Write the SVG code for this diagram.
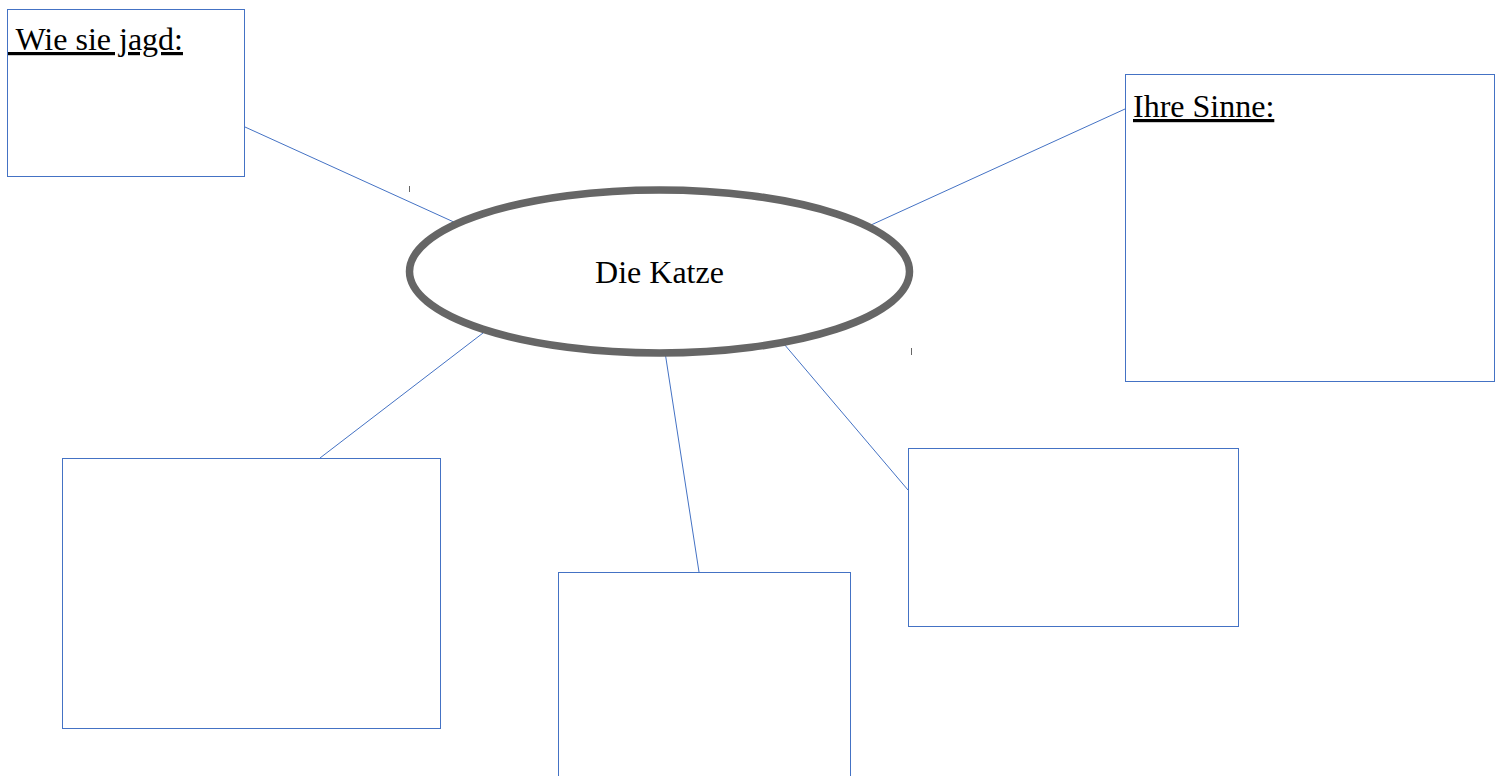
<svg xmlns="http://www.w3.org/2000/svg" width="1495" height="776" viewBox="0 0 1495 776">
<style>
.box{fill:#fff;stroke:#4472c4;stroke-width:1}
.con{stroke:#4472c4;stroke-width:1;fill:none}
.lbl{font-family:"Liberation Serif",serif;font-size:32px;fill:#000}
.u{text-decoration:underline}
.tick{stroke:#666;stroke-width:1}
</style>
<rect width="1495" height="776" fill="#fff"/>
<g id="connectors">
<line class="con" x1="245" y1="127" x2="456" y2="223"/>
<line class="con" x1="1125" y1="109" x2="871" y2="225"/>
<line class="con" x1="483" y1="333" x2="320" y2="458"/>
<line class="con" x1="665" y1="352" x2="699" y2="572"/>
<line class="con" x1="784" y1="344" x2="908" y2="490"/>
</g>
<g id="node-center">
<ellipse cx="659.5" cy="271.5" rx="250" ry="81.5" fill="#fff" stroke="#666" stroke-width="7.5"/>
<text class="lbl" x="659.5" y="283" text-anchor="middle">Die Katze</text>
</g>
<g id="node-jagd">
<rect class="box" x="7.5" y="9.5" width="237" height="167"/>
<text class="lbl u" x="8" y="50" xml:space="preserve"> Wie sie jagd:</text>
</g>
<g id="node-sinne">
<rect class="box" x="1125.5" y="74.5" width="369" height="307"/>
<text class="lbl u" x="1133" y="117">Ihre Sinne:</text>
</g>
<g id="node-bl">
<rect class="box" x="62.5" y="458.5" width="378" height="270"/>
</g>
<g id="node-bm">
<rect class="box" x="558.5" y="572.5" width="292" height="220"/>
</g>
<g id="node-br">
<rect class="box" x="908.5" y="448.5" width="330" height="178"/>
</g>
<line class="tick" x1="409.5" y1="186" x2="409.5" y2="192"/>
<line class="tick" x1="911.5" y1="348" x2="911.5" y2="355"/>
</svg>
